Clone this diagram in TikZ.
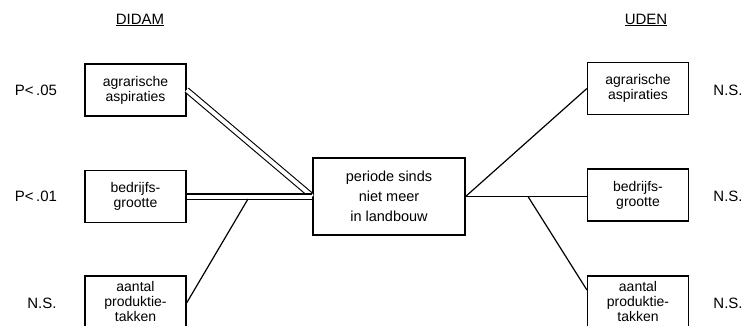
\documentclass[tikz,border=0pt]{standalone}
\usepackage{fontspec}
\setmainfont{Liberation Sans}
\begin{document}
\begin{tikzpicture}[x=1pt,y=-1pt,
  every node/.style={font=\fontsize{14}{15}\selectfont, inner sep=0pt, align=center},
  varbox/.style={draw, line width=1.2pt, minimum width=101pt, minimum height=52pt},
  centerbox/.style={draw, line width=1.2pt, minimum width=152pt, minimum height=77pt, font=\fontsize{14.5}{20}\selectfont},
  siglabel/.style={font=\fontsize{15}{16}\selectfont},
  heading/.style={font=\fontsize{15}{16}\selectfont},
  single/.style={line width=1.2pt},
  dbl/.style={double, double distance=4pt, line width=1.1pt}]
\useasboundingbox (0,0) rectangle (746,326);
% headings
\node[heading] (didam) at (140,20) {\underline{DIDAM}};
\node[heading] (uden) at (646,20) {\underline{UDEN}};
% centre
\node[centerbox] (c) at (389,196.5) {periode sinds\\niet meer\\in landbouw};
% left boxes
\node[varbox] (la) at (135.5,90) {agrarische\\aspiraties};
\node[varbox] (lb) at (135.5,196.5) {bedrijfs-\\grootte};
\node[varbox, minimum height=58pt] (lc) at (135.5,305) {};
\node (lct) at (135.5,301) {aantal\\produktie-\\takken};
% right boxes
\node[varbox] (ra) at (638,88.5) {agrarische\\aspiraties};
\node[varbox] (rb) at (638,195) {bedrijfs-\\grootte};
\node[varbox, minimum height=58pt] (rc) at (638,305) {};
\node (rct) at (638,301) {aantal\\produktie-\\takken};
% significance labels
\node[siglabel] (pl1) at (36,90) {P<\,.05};
\node[siglabel] (pl2) at (36,196) {P<\,.01};
\node[siglabel] (pl3) at (42,303) {N.S.};
\node[siglabel] (pr1) at (728,90) {N.S.};
\node[siglabel] (pr2) at (728,196) {N.S.};
\node[siglabel] (pr3) at (728,303) {N.S.};
% connectors left
\draw[dbl] (la.east) -- (c.west);
\draw[dbl] (lb.east) -- (c.west);
\coordinate (jl) at (248,199);
\draw[single] (lc.east |- 0,303) -- (jl);
% connectors right
\draw[single] (c.east) -- (ra.west);
\draw[single] (c.east) -- (rb.west |- c.east);
\coordinate (jr) at (528,196.5);
\draw[single] (jr) -- (rc.west |- 0,290);
\end{tikzpicture}
\end{document}
